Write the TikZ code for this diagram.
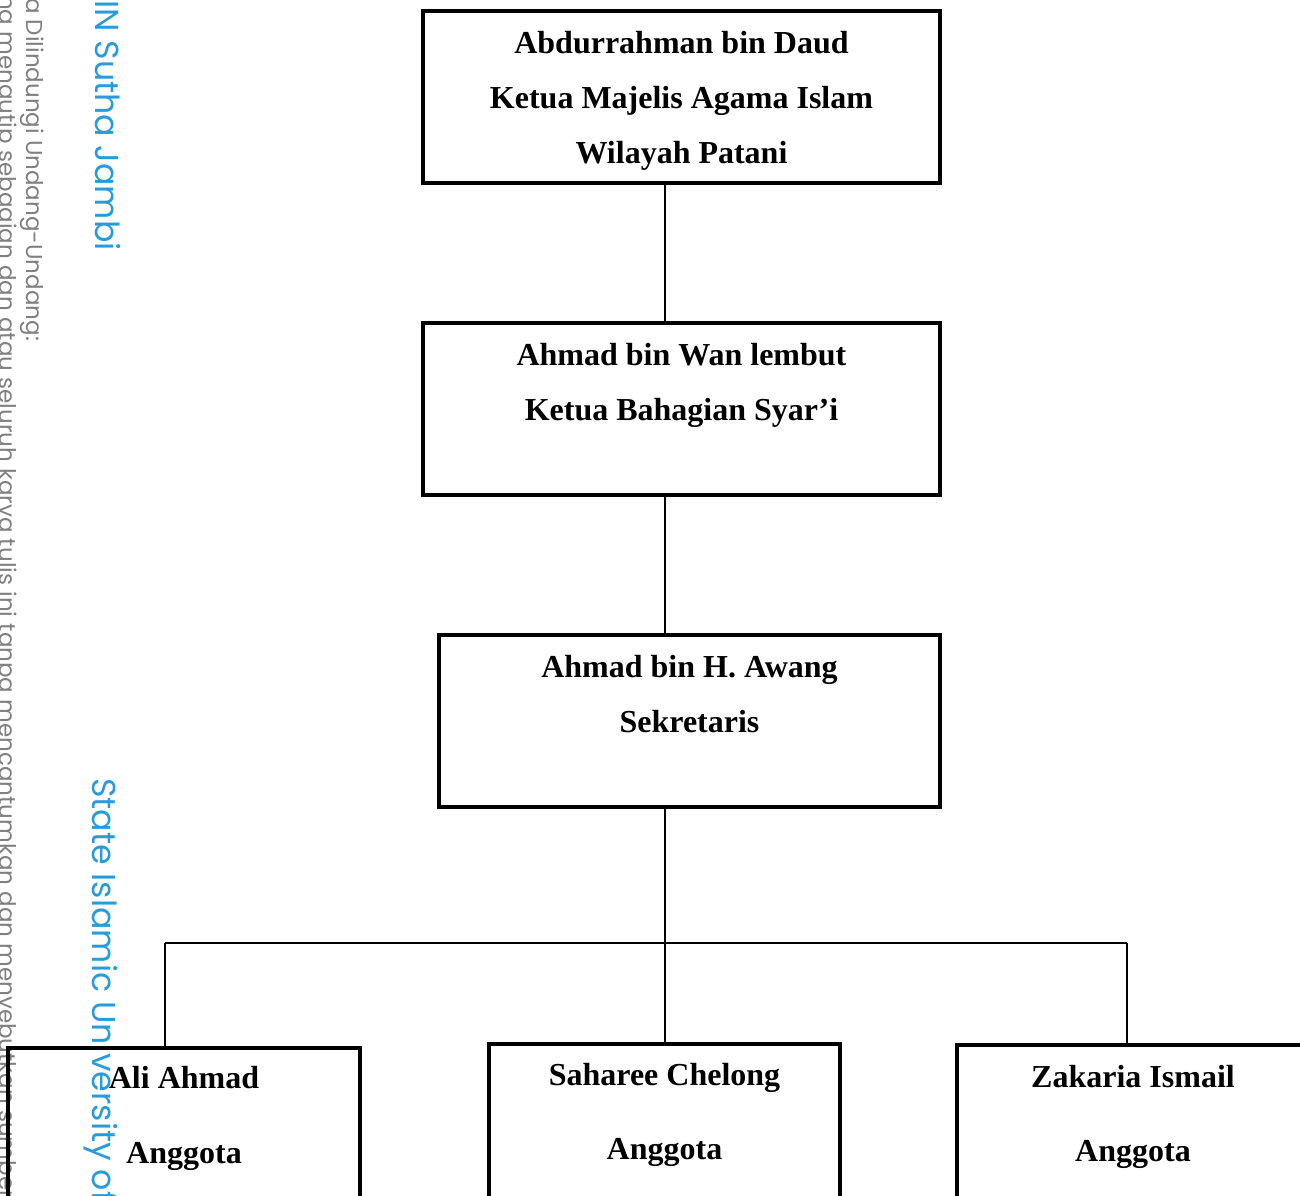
\documentclass[tikz,border=0pt]{standalone}
\usepackage{fontspec}
\setmainfont{Liberation Serif}
\newfontfamily\wmfont{Poppins}
\definecolor{wmblue}{RGB}{40,155,220}
\definecolor{wmgray}{RGB}{128,128,128}
\begin{document}
\begin{tikzpicture}[x=1pt,y=-1pt,
  box/.style={draw, line width=3.2pt, minimum width=#1, inner sep=0pt},
  txt/.style={font=\fontsize{32}{32}\selectfont\bfseries, anchor=base, inner sep=0pt},
  conn/.style={line width=2pt},
  wmb/.style={font=\wmfont\fontsize{33.2}{33}\selectfont, text=wmblue, rotate=-90, anchor=base west, inner sep=0pt},
  wmg/.style={font=\wmfont\fontsize{23}{23}\selectfont, text=wmgray, rotate=-90, anchor=base west, inner sep=0pt}
]
\useasboundingbox (0,0) rectangle (1300,1195);
\clip (0,0) rectangle (1300,1195);
\fill[white] (0,0) rectangle (1300,1195);

% watermark
\node[wmg] (g1) at (26,-2) {a Dilindungi Undang-Undang:};
\node[wmg] (g2) at (-1,-5) {ng mengutip sebagian dan atau seluruh karya tulis ini tanpa mencantumkan dan menyebutkan sumber};
\node[wmb] (w1) at (95,0) {IN Sutha Jambi};
\node[wmb] (w2) at (92,778) {State Islamic University of};

% boxes
\node[box=517pt, minimum height=172pt] (b1) at (681.5,97) {};
\node[box=517pt, minimum height=172pt] (b2) at (681.5,409) {};
\node[box=501pt, minimum height=172pt] (b3) at (689.5,721) {};
\node[box=352pt, minimum height=200pt] (b4) at (184,1148) {};
\node[box=351pt, minimum height=200pt] (b5) at (664.5,1144) {};
\node[box=352pt, minimum height=200pt] (b6) at (1133,1145) {};

% texts
\node[txt] (t1a) at (681.5,53) {Abdurrahman bin Daud};
\node[txt] (t1b) at (681.5,108) {Ketua Majelis Agama Islam};
\node[txt] (t1c) at (681.5,163) {Wilayah Patani};
\node[txt] (t2a) at (681.5,365) {Ahmad bin Wan lembut};
\node[txt] (t2b) at (681.5,420) {Ketua Bahagian Syar’i};
\node[txt] (t3a) at (689.5,677) {Ahmad bin H. Awang};
\node[txt] (t3b) at (689.5,732) {Sekretaris};
\node[txt] (t4a) at (184,1088) {Ali Ahmad};
\node[txt] (t4b) at (184,1163) {Anggota};
\node[txt] (t5a) at (664.5,1085) {Saharee Chelong};
\node[txt] (t5b) at (664.5,1159) {Anggota};
\node[txt] (t6a) at (1133,1087) {Zakaria Ismail};
\node[txt] (t6b) at (1133,1161) {Anggota};

% connectors
\coordinate (hl) at (165,943);
\coordinate (hm) at (665,943);
\coordinate (hr) at (1127,943);
\draw[conn] (b1.south -| hm) -- (b2.north -| hm);
\draw[conn] (b2.south -| hm) -- (b3.north -| hm);
\draw[conn] (b3.south -| hm) -- (b5.north -| hm);
\draw[conn] (hl) -- (hr);
\draw[conn] (hl) -- (b4.north -| hl);
\draw[conn] (hr) -- (b6.north -| hr);
\end{tikzpicture}
\end{document}
